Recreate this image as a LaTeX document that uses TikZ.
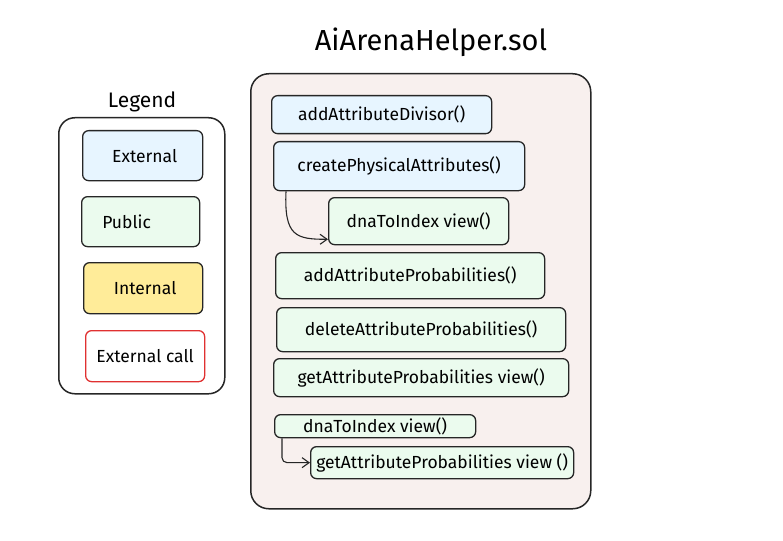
\documentclass[tikz,border=0pt]{standalone}
\usepackage{fontspec}
\setmainfont{Fira Sans}
\usetikzlibrary{arrows.meta,calc}
\definecolor{extblue}{HTML}{E7F5FF}
\definecolor{pubgreen}{HTML}{EBFBEE}
\definecolor{intyellow}{HTML}{FFEC99}
\definecolor{callred}{HTML}{E03131}
\definecolor{filepink}{HTML}{F8F0EE}
\tikzset{
  fnbox/.style={draw=black!85,line width=1.3pt,rounded corners=6pt,anchor=north west,
    inner sep=0pt,font=\fontsize{17.5}{20}\selectfont},
  extfn/.style={fnbox,fill=extblue},
  pubfn/.style={fnbox,fill=pubgreen},
  intfn/.style={fnbox,fill=intyellow},
  callfn/.style={fnbox,draw=callred,fill=white},
  callarrow/.style={draw=black!85,line width=1.1pt,-{Straight Barb[length=7pt,width=10pt]}}
}
\begin{document}
\begin{tikzpicture}[x=1pt,y=-1pt]
\useasboundingbox (0,0) rectangle (783,540);
% file
\node [font=\fontsize{29}{32}\selectfont] (title) at (431,42) {AiArenaHelper.sol};
\node [draw=black!85,line width=1.5pt,rounded corners=18pt,fill=filepink,anchor=north west,
  minimum width=340pt,minimum height=435pt] (file) at (250,73) {};
% legend
\node [font=\fontsize{21}{24}\selectfont] (legtitle) at (142,102) {Legend};
\node [draw=black!85,line width=1.5pt,rounded corners=16pt,anchor=north west,
  minimum width=166pt,minimum height=276pt] (legend) at (58,117) {};
\node [extfn,minimum width=120pt,minimum height=50pt] (lext) at (82,130) {\hspace*{4pt}External};
\node [pubfn,minimum width=118pt,minimum height=50pt] (lpub) at (81,196) {\hspace*{-28pt}Public};
\node [intfn,minimum width=119pt,minimum height=51pt] (lint) at (83,262) {\hspace*{4pt}Internal};
\node [callfn,minimum width=119pt,minimum height=51pt] (lcall) at (85,330) {External call};
% functions
\node [extfn,minimum width=220pt,minimum height=38pt] (divisor) at (271,95) {addAttributeDivisor()};
\node [extfn,minimum width=251pt,minimum height=49pt] (create) at (273,141) {createPhysicalAttributes()};
\node [pubfn,minimum width=180pt,minimum height=47pt] (dna1) at (328,197) {dnaToIndex view()};
\node [pubfn,minimum width=269pt,minimum height=46pt] (addprob) at (275,252) {addAttributeProbabilities()};
\node [pubfn,minimum width=289pt,minimum height=44pt] (delprob) at (276,307) {deleteAttributeProbabilities()};
\node [pubfn,minimum width=295pt,minimum height=38pt] (getprob) at (273,358) {getAttributeProbabilities view()};
\node [pubfn,minimum width=201pt,minimum height=23pt] (dna2) at (274,414) {dnaToIndex view()};
\node [pubfn,minimum width=263pt,minimum height=32pt] (getprob2) at (310,446) {getAttributeProbabilities view ()};
% calls
\draw [callarrow] ($(create.south west)+(13,0)$) coordinate (c1)
  .. controls ($(c1)+(-2,45)$) and ($(c1)+(10,48)$) .. ($(dna1.south west)+(0,-6)$);
\draw [callarrow,rounded corners=5pt] ($(dna2.south west)+(8,0)$) |- (getprob2.west);
\end{tikzpicture}
\end{document}
